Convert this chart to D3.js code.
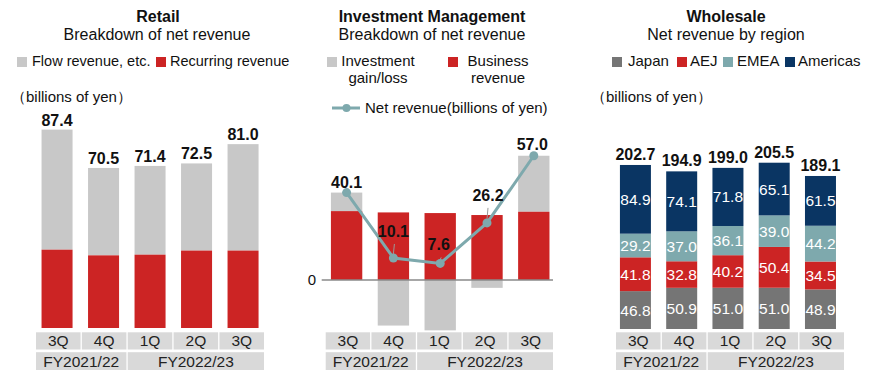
<!DOCTYPE html>
<html><head><meta charset="utf-8">
<script src="https://cdn.jsdelivr.net/npm/d3@7/dist/d3.min.js"></script>
<style>
body{margin:0;background:#fff;}
svg{font-family:"Liberation Sans",Arial,sans-serif;}
</style></head>
<body><svg id="c" width="880" height="381"></svg>
<script>
// ---- data ----
const quarters = ["3Q","4Q","1Q","2Q","3Q"];
const fiscalYears = ["FY2021/22","FY2022/23"];
const fiscalYearSpans = [2,3];

const retailTotal = [87.4,70.5,71.4,72.5,81.0];
const retailRecurring = [34.5,32.0,32.3,34.1,34.1];

const imBusiness = [31.6,31.0,30.7,29.8,31.3];
const imGain = [8.5,-20.9,-23.1,-3.6,25.7];
const imNet = [40.1,10.1,7.6,26.2,57.0];

const wsJapan = [46.8,50.9,51.0,51.0,48.9];
const wsAEJ = [41.8,32.8,40.2,50.4,34.5];
const wsEMEA = [29.2,37.0,36.1,39.0,44.2];
const wsAmericas = [84.9,74.1,71.8,65.1,61.5];
const wsTotal = [202.7,194.9,199.0,205.5,189.1];

// ---- styles ----
const C = {gray:"#c8c8c8", red:"#cc2424", teal:"#7ea9ad", navy:"#0a3563", japan:"#757575", box:"#d9d9d9", text:"#111"};
const svg = d3.select("#c");
const FONT = 14.5;

function txt(g, x, y, s, o={}) {
  return g.append("text").attr("x",x).attr("y",y).text(s)
    .attr("text-anchor", o.anchor||"middle")
    .attr("font-size", o.size||FONT)
    .attr("font-weight", o.bold?"bold":"normal")
    .attr("fill", o.fill||C.text);
}

function categoryAxis(x0, x1) {
  const cell = d3.scaleBand().domain(d3.range(quarters.length)).range([x0,x1]);
  const g = svg.append("g");
  quarters.forEach((q,i)=>{
    g.append("rect").attr("x",cell(i)).attr("y",332.3).attr("width",cell.bandwidth()-1.3).attr("height",17.2).attr("fill",C.box);
    txt(g, cell(i)+cell.bandwidth()/2-0.6, 346.3, q, {size:15.5, fill:"#222"});
  });
  let start = 0;
  fiscalYears.forEach((fy,k)=>{
    const n = fiscalYearSpans[k];
    const xa = cell(start), xb = cell(start+n-1)+cell.bandwidth()-1.3;
    g.append("rect").attr("x",xa).attr("y",352.2).attr("width",xb-xa).attr("height",17.8).attr("fill",C.box);
    txt(g, (xa+xb)/2, 366.8, fy, {size:15.5, fill:"#222"});
    start += n;
  });
}

function legendSq(x, y, color) {
  svg.append("rect").attr("x",x).attr("y",y).attr("width",10).attr("height",10).attr("fill",color);
}

// ================= Retail =================
{
  const g = svg.append("g");
  txt(g, 158, 21.5, "Retail", {bold:true, size:16});
  txt(g, 157, 40, "Breakdown of net revenue", {size:16});
  legendSq(17, 57, C.gray);
  txt(g, 32, 66, "Flow  revenue,  etc.", {anchor:"start"});
  legendSq(156, 57, C.red);
  txt(g, 170, 66, "Recurring revenue", {anchor:"start"});
  txt(g, 11, 102, "（billions of yen）", {anchor:"start", size:15});

  const x = d3.scaleBand().domain(d3.range(quarters.length)).range([33.8, 266.3]).paddingInner(0.333).paddingOuter(0.1665);
  const y = d3.scaleLinear().domain([0,100]).range([328, 101]);
  quarters.forEach((q,i)=>{
    g.append("rect").attr("x",x(i)).attr("width",x.bandwidth())
      .attr("y",y(retailTotal[i])).attr("height",y(retailRecurring[i])-y(retailTotal[i])).attr("fill",C.gray);
    g.append("rect").attr("x",x(i)).attr("width",x.bandwidth())
      .attr("y",y(retailRecurring[i])).attr("height",y(0)-y(retailRecurring[i])).attr("fill",C.red);
    txt(g, x(i)+x.bandwidth()/2, y(retailTotal[i])-4, d3.format(".1f")(retailTotal[i]), {bold:true, size:16});
  });
  categoryAxis(36, 265.3);
}

// ================= Investment Management =================
{
  const g = svg.append("g");
  txt(g, 432, 21.5, "Investment Management", {bold:true, size:16});
  txt(g, 432, 40, "Breakdown of net revenue", {size:16});
  legendSq(327, 57, C.gray);
  txt(g, 378, 66, "Investment", {size:15});
  txt(g, 378, 83, "gain/loss", {size:15});
  legendSq(448, 57, C.red);
  txt(g, 498, 66, "Business", {size:15});
  txt(g, 498, 83, "revenue", {size:15});
  g.append("line").attr("x1",332).attr("x2",360).attr("y1",108).attr("y2",108).attr("stroke",C.teal).attr("stroke-width",3);
  g.append("circle").attr("cx",346.5).attr("cy",108).attr("r",4).attr("fill",C.teal);
  txt(g, 365, 113, "Net revenue(billions  of yen)", {anchor:"start", size:15});

  const x = d3.scaleBand().domain(d3.range(quarters.length)).range([323.2, 557.2]).paddingInner(0.33).paddingOuter(0.165);
  const y = d3.scaleLinear().domain([-30,60]).range([345.4, 149.2]);
  const cx = i => x(i)+x.bandwidth()/2;
  quarters.forEach((q,i)=>{
    const v = imGain[i];
    if (v >= 0) {
      g.append("rect").attr("x",x(i)).attr("width",x.bandwidth())
        .attr("y",y(imBusiness[i]+v)).attr("height",y(imBusiness[i])-y(imBusiness[i]+v)).attr("fill",C.gray);
    } else {
      g.append("rect").attr("x",x(i)).attr("width",x.bandwidth())
        .attr("y",y(0)).attr("height",y(v)-y(0)).attr("fill",C.gray);
    }
    g.append("rect").attr("x",x(i)).attr("width",x.bandwidth())
      .attr("y",y(imBusiness[i])).attr("height",y(0)-y(imBusiness[i])).attr("fill",C.red);
  });
  g.append("line").attr("x1",321.7).attr("x2",553).attr("y1",y(0)).attr("y2",y(0)).attr("stroke","#8a8a8a").attr("stroke-width",1.5);
  txt(g, 316, y(0)+5, "0", {anchor:"end", size:15});

  const line = d3.line().x((d,i)=>cx(i)).y(d=>y(d));
  g.append("path").datum(imNet).attr("d",line).attr("fill","none").attr("stroke",C.teal).attr("stroke-width",3);
  imNet.forEach((v,i)=>g.append("circle").attr("cx",cx(i)).attr("cy",y(v)).attr("r",4.5).attr("fill",C.teal));

  const labelLift = [4.5, 21, 13, 22, 5.5];
  const labelShift = [0, 0, -1.5, 1, -1.5];
  imNet.forEach((v,i)=>{
    const ly = y(v)-labelLift[i];
    txt(g, cx(i)+labelShift[i], ly, d3.format(".1f")(v), {bold:true, size:16});
    if (labelLift[i] > 10) {
      g.append("line").attr("x1",cx(i)+1).attr("x2",cx(i)).attr("y1",ly+7).attr("y2",y(v)-4)
        .attr("stroke","#9a9a9a").attr("stroke-width",1);
    }
  });
  categoryAxis(325.7, 554.3);
}

// ================= Wholesale =================
{
  const g = svg.append("g");
  txt(g, 726, 21.5, "Wholesale", {bold:true, size:16});
  txt(g, 726, 40, "Net revenue by region", {size:16});
  const leg = [["Japan",C.japan,612,628],["AEJ",C.red,677,690],["EMEA",C.teal,723,737],["Americas",C.navy,785,798]];
  leg.forEach(([n,c,sx,tx])=>{ legendSq(sx,57,c); txt(g, tx, 66, n, {anchor:"start", size:15}); });
  txt(g, 591, 102, "（billions of yen）", {anchor:"start", size:15});

  const x = d3.scaleBand().domain(d3.range(quarters.length)).range([612.3, 843.6]).paddingInner(0.33).paddingOuter(0.165);
  const y = d3.scaleLinear().domain([0,250]).range([329, 126.7]);
  const series = [[wsJapan,C.japan],[wsAEJ,C.red],[wsEMEA,C.teal],[wsAmericas,C.navy]];
  quarters.forEach((q,i)=>{
    let base = 0;
    series.forEach(([arr,col])=>{
      const v = arr[i];
      g.append("rect").attr("x",x(i)).attr("width",x.bandwidth())
        .attr("y",y(base+v)).attr("height",y(base)-y(base+v)).attr("fill",col);
      txt(g, x(i)+x.bandwidth()/2, (y(base)+y(base+v))/2+5.5, d3.format(".1f")(v), {size:15.5, fill:"#fff"});
      base += v;
    });
    txt(g, x(i)+x.bandwidth()/2, y(wsTotal[i])-5, d3.format(".1f")(wsTotal[i]), {bold:true, size:16});
  });
  categoryAxis(616, 845.3);
}
</script></body></html>
